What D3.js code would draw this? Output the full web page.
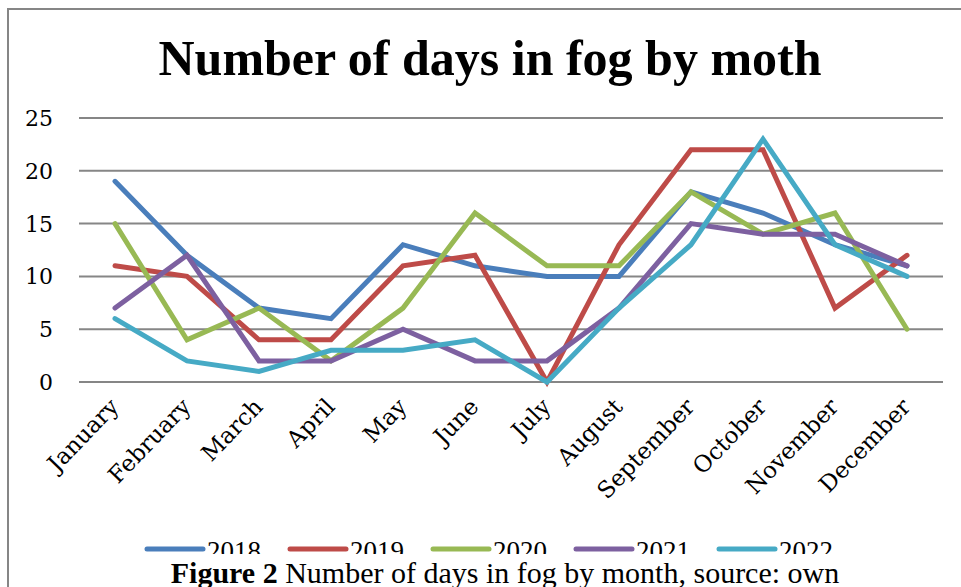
<!DOCTYPE html>
<html>
<head>
<meta charset="utf-8">
<script src="https://cdn.jsdelivr.net/npm/d3@7"></script>
<style>
  body { margin: 0; background: #fff; }
  svg { display: block; }
</style>
</head>
<body>
<svg id="chart"></svg>
<script>
var months = ['January', 'February', 'March', 'April', 'May', 'June', 'July',
    'August', 'September', 'October', 'November', 'December'];
var years = ['2018', '2019', '2020', '2021', '2022'];
var yTicks = [0, 5, 10, 15, 20, 25];

var days2018 = [19, 12, 7, 6, 13, 11, 10, 10, 18, 16, 13, 11];
var days2019 = [11, 10, 4, 4, 11, 12, 0, 13, 22, 22, 7, 12];
var days2020 = [15, 4, 7, 2, 7, 16, 11, 11, 18, 14, 16, 5];
var days2021 = [7, 12, 2, 2, 5, 2, 2, 7, 15, 14, 14, 11];
var days2022 = [6, 2, 1, 3, 3, 4, 0, 7, 13, 23, 13, 10];

var colors = ['#4a7ebb', '#be4b48', '#98b954', '#7d60a0', '#46aac5'];

var series = [days2018, days2019, days2020, days2021, days2022].map(function (vals, i) {
    return { year: years[i], color: colors[i], values: vals };
});

var width = 961, height = 587;
var margin = { top: 118, right: 18, bottom: 205, left: 79 };

var svg = d3.select('#chart')
    .attr('width', width)
    .attr('height', height);

// chart frame (runs off the right and bottom of the crop)
svg.append('path')
    .attr('d', 'M8,' + height + 'V9H' + (width + 5))
    .attr('fill', 'none')
    .attr('stroke', '#868686')
    .attr('stroke-width', 2);

svg.append('text')
    .attr('x', 490)
    .attr('y', 75)
    .attr('text-anchor', 'middle')
    .style('font-family', 'Liberation Serif')
    .style('font-weight', 'bold')
    .style('font-size', '50px')
    .text('Number of days in fog by moth');

var x = d3.scalePoint()
    .domain(months)
    .range([margin.left, width - margin.right])
    .padding(0.5);

var y = d3.scaleLinear()
    .domain([0, 25])
    .range([height - margin.bottom, margin.top]);

// gridlines
svg.append('g')
    .selectAll('line')
    .data(yTicks)
    .enter().append('line')
    .attr('x1', margin.left)
    .attr('x2', width - margin.right)
    .attr('y1', function (d) { return y(d); })
    .attr('y2', function (d) { return y(d); })
    .attr('stroke', '#868686')
    .attr('stroke-width', 2);

// y labels
svg.append('g')
    .selectAll('text')
    .data(yTicks)
    .enter().append('text')
    .attr('x', 53)
    .attr('y', function (d) { return y(d) + 8; })
    .attr('text-anchor', 'end')
    .style('font-family', 'DejaVu Serif')
    .style('font-size', '22px')
    .text(function (d) { return d; });

// month labels
svg.append('g')
    .selectAll('text')
    .data(months)
    .enter().append('text')
    .attr('transform', function (d) {
        return 'translate(' + (x(d) + 5) + ',' + 408 + ') rotate(-46)';
    })
    .attr('text-anchor', 'end')
    .style('font-family', 'DejaVu Serif')
    .style('font-size', '23px')
    .text(function (d) { return d; });

var line = d3.line()
    .x(function (d, i) { return x(months[i]); })
    .y(function (d) { return y(d); });

svg.append('g')
    .selectAll('path')
    .data(series)
    .enter().append('path')
    .attr('d', function (d) { return line(d.values); })
    .attr('fill', 'none')
    .attr('stroke', function (d) { return d.color; })
    .attr('stroke-width', 5)
    .attr('stroke-linejoin', 'miter')
    .attr('stroke-linecap', 'round');

// legend
var legend = svg.append('g')
    .selectAll('g')
    .data(series)
    .enter().append('g')
    .attr('transform', function (d, i) {
        return 'translate(' + (147 + i * 143) + ',' + 549 + ')';
    });

legend.append('line')
    .attr('x1', 0)
    .attr('x2', 56)
    .attr('stroke', function (d) { return d.color; })
    .attr('stroke-width', 5)
    .attr('stroke-linecap', 'round');

legend.append('text')
    .attr('x', 60)
    .attr('y', 11)
    .style('font-family', 'Liberation Serif')
    .style('font-size', '27px')
    .text(function (d) { return d.year; });

// figure caption box sits over the bottom of the legend
svg.append('rect')
    .attr('x', 135)
    .attr('y', 554)
    .attr('width', 720)
    .attr('height', 40)
    .attr('fill', '#fff');

var caption = svg.append('text')
    .attr('x', 505)
    .attr('y', 583)
    .attr('text-anchor', 'middle')
    .style('font-family', 'Liberation Serif')
    .style('font-size', '30px');

caption.append('tspan')
    .style('font-weight', 'bold')
    .text('Figure 2');

caption.append('tspan')
    .text(' Number of days in fog by month, source: own');
</script>
</body>
</html>
